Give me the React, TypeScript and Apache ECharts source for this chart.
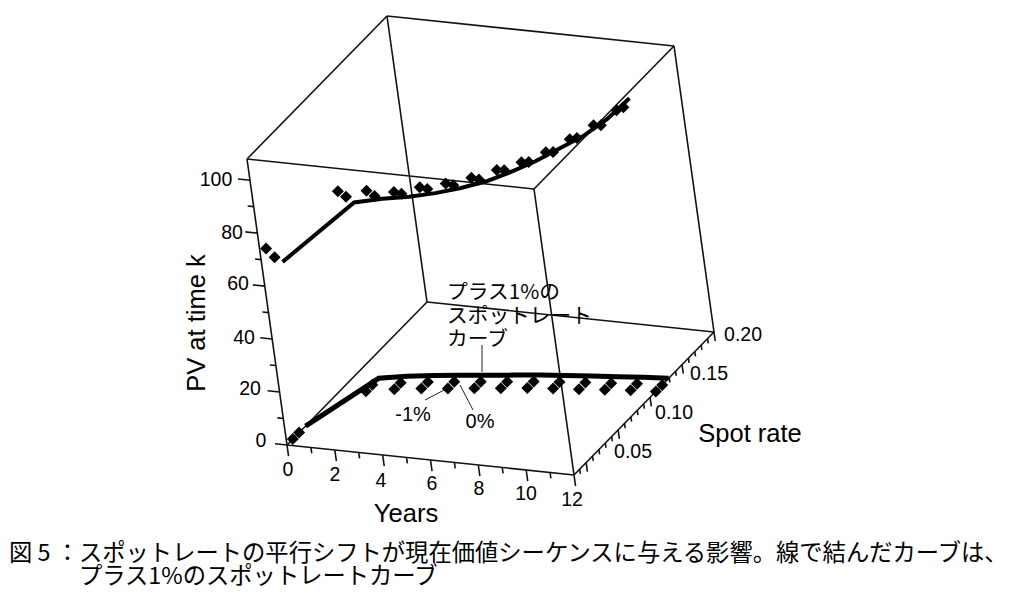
import React, { useEffect, useRef } from "react";
import * as echarts from "echarts";

// ---- data ----
const years = [0, 1, 2, 3, 4, 5, 6, 7, 8, 9, 10, 11, 12];
const spotZero = [0, 0.077, 0.084, 0.089, 0.093, 0.097, 0.101, 0.105, 0.108, 0.111, 0.114, 0.117, 0.119];
const spotMinus = [-0.01, 0.067, 0.074, 0.079, 0.083, 0.087, 0.091, 0.095, 0.098, 0.101, 0.104, 0.107, 0.109];
const spotPlus = [0.01, 0.087, 0.094, 0.099, 0.103, 0.107, 0.111, 0.115, 0.118, 0.121, 0.124, 0.127, 0.129];
const pvPlus = [62, 66.4, 67, 67.5, 68.8, 70.7, 73.2, 76.8, 81, 86, 91, 97.5, 105.8];
const pvZero = [66.2, 71, 70.5, 71.1, 72.8, 74.2, 76.3, 79.8, 83.1, 87.1, 92.6, 97.6, 104.8];
const pvMinus = [72, 75.6, 75, 74.2, 76, 77.3, 79.5, 82.3, 85.5, 89.5, 94.6, 100.1, 106.2];
const pvTicks = [0, 10, 20, 30, 40, 50, 60, 70, 80, 90, 100];
const pvLabels = ["0", "20", "40", "60", "80", "100"];
const yearTicks = [0, 1, 2, 3, 4, 5, 6, 7, 8, 9, 10, 11, 12];
const yearLabels = ["0", "2", "4", "6", "8", "10", "12"];
const rateTicks = [-0.01, 0, 0.01, 0.02, 0.03, 0.04, 0.05, 0.06, 0.07, 0.08, 0.09, 0.1, 0.11, 0.12, 0.13, 0.14, 0.15, 0.16, 0.17, 0.18, 0.19, 0.2];
const rateLabels = ["0.05", "0.10", "0.15", "0.20"];
const caption = "図 5 ：スポットレートの平行シフトが現在価値シーケンスに与える影響。線で結んだカーブは、\n　　　プラス1%のスポットレートカーブ";
const note = "プラス1%の\nスポットレート\nカーブ";

// ---- parallel projection of the 3D box (years, rate, PV) on the page ----
const Y_MAX = 12;
const R_MIN = -0.019;
const R_MAX = 0.2;
const PV_MAX = 108;
const project = (y: number, r: number, pv: number): [number, number] => {
  const a = y / Y_MAX;
  const b = (r - R_MIN) / (R_MAX - R_MIN);
  const c = pv / PV_MAX;
  return [287 + 287 * a + 140 * b - 40 * c, 445 + 30 * a - 143 * b - 286 * c];
};

const INK = "#111";
const LATIN = '"Liberation Sans", Arial, sans-serif';
const CJK = '"Noto Sans CJK JP", sans-serif';

const seg = (a: number[], b: number[], width = 1.6, color = INK) => ({
  type: "line",
  data: [a, b],
  symbol: "none",
  silent: true,
  lineStyle: { color, width },
  z: 2,
});

const text = (p: number[], t: string, size: number, family: string, extra: any = {}) => ({
  type: "scatter",
  data: [p],
  symbolSize: 0,
  silent: true,
  z: 6,
  itemStyle: { opacity: 1 },
  label: {
    show: true,
    position: "inside",
    formatter: () => t,
    fontSize: size,
    fontFamily: family,
    color: "#000",
    align: "center",
    verticalAlign: "middle",
    ...extra,
  },
});

const corners = {
  o: project(0, R_MIN, 0),
  a: project(12, R_MIN, 0),
  b: project(12, R_MAX, 0),
  c: project(0, R_MAX, 0),
  o2: project(0, R_MIN, PV_MAX),
  a2: project(12, R_MIN, PV_MAX),
  b2: project(12, R_MAX, PV_MAX),
  c2: project(0, R_MAX, PV_MAX),
};

const buildOption = () => {
  const { o, a, b, c, o2, a2, b2, c2 } = corners;
  const series: any[] = [
    seg(o, a), seg(a, b), seg(b, c), seg(c, o),
    seg(o2, a2), seg(a2, b2), seg(b2, c2), seg(c2, o2),
    seg(o, o2), seg(a, a2), seg(b, b2), seg(c, c2),
  ];

  pvTicks.forEach((v) => {
    const dy = v % 20 === 0 ? 0.5 : 0.25;
    series.push(seg(project(0, R_MIN, v), project(-dy, R_MIN, v)));
  });
  yearTicks.forEach((v) => {
    const d = v % 2 === 0 ? 4.2 : 2.2;
    series.push(seg(project(v, R_MIN, 0), project(v, R_MIN, -d)));
  });
  rateTicks.forEach((v, i) => {
    const d = (i + 4) % 5 === 0 ? 3.4 : 1.8;
    series.push(seg(project(12, v, 0), project(12, v, -d)));
  });

  const line = (rates: number[], pvs: number[] | null, width: number) => ({
    type: "line",
    symbol: "none",
    silent: true,
    z: 4,
    lineStyle: { color: "#000", width, cap: "butt", join: "miter" },
    data: years.map((y, i) => project(y, rates[i], pvs ? pvs[i] : 0)),
  });
  const dots = (rates: number[], pvs: number[] | null) => ({
    type: "scatter",
    symbol: "diamond",
    symbolSize: 12,
    silent: true,
    z: 4,
    itemStyle: { color: "#000", opacity: 1 },
    data: years.map((y, i) => project(y, rates[i], pvs ? pvs[i] : 0)),
  });
  series.push(line(spotPlus, null, 5), line(spotPlus, pvPlus, 4));
  series.push(dots(spotZero, null), dots(spotMinus, null));
  series.push(dots(spotZero, pvZero), dots(spotMinus, pvMinus));

  return series;
};

// label anchors on the page
const yearLabelPos = [[288, 469], [335, 474], [381, 480], [432, 483], [479, 488], [526, 493], [572, 499]];
const pvLabelPos = [[261, 440], [250, 388], [244, 337], [238, 283], [232, 232], [216, 179]];
const rateLabelPos = [[633, 451], [674, 412], [709, 373], [743, 334]];
const leaderSegs = [
  [[425, 400], [448, 388]],
  [[460, 385], [473, 410]],
  [[482, 345], [482, 372]],
];

export default function App() {
  const ref = useRef<HTMLDivElement>(null);
  useEffect(() => {
    if (!ref.current) return;
    const chart = echarts.init(ref.current, undefined, { renderer: "svg" });
    const series = buildOption();
    leaderSegs.forEach(([p, q]) => series.push(seg(p, q, 1, "#222")));
    yearLabels.forEach((t, i) => series.push(text(yearLabelPos[i], t, 19.5, LATIN)));
    pvLabels.forEach((t, i) => series.push(text(pvLabelPos[i], t, 19.5, LATIN)));
    rateLabels.forEach((t, i) => series.push(text(rateLabelPos[i], t, 19.5, LATIN)));
    series.push(text([406, 513], "Years", 25.5, LATIN));
    series.push(text([750, 433], "Spot rate", 25.5, LATIN));
    series.push(text([196, 323], "PV at time k", 25.5, LATIN, { rotate: 90 }));
    series.push(text([447, 313.5], note, 20.7, CJK, { align: "left", lineHeight: 23.5 }));
    series.push(text([413, 414], "-1%", 20, LATIN));
    series.push(text([480, 421], "0%", 20, LATIN));
    series.push(text([9, 562], caption, 23.3, CJK, { align: "left", lineHeight: 23 }));
    chart.setOption({
      animation: false,
      backgroundColor: "#fff",
      grid: { left: 0, right: 0, top: 0, bottom: 0 },
      xAxis: { type: "value", min: 0, max: 1013, show: false },
      yAxis: { type: "value", min: 0, max: 593, inverse: true, show: false },
      series,
    });
    return () => chart.dispose();
  }, []);
  return <div ref={ref} style={{ position: "fixed", left: 0, top: 0, width: 1013, height: 593 }} />;
}
